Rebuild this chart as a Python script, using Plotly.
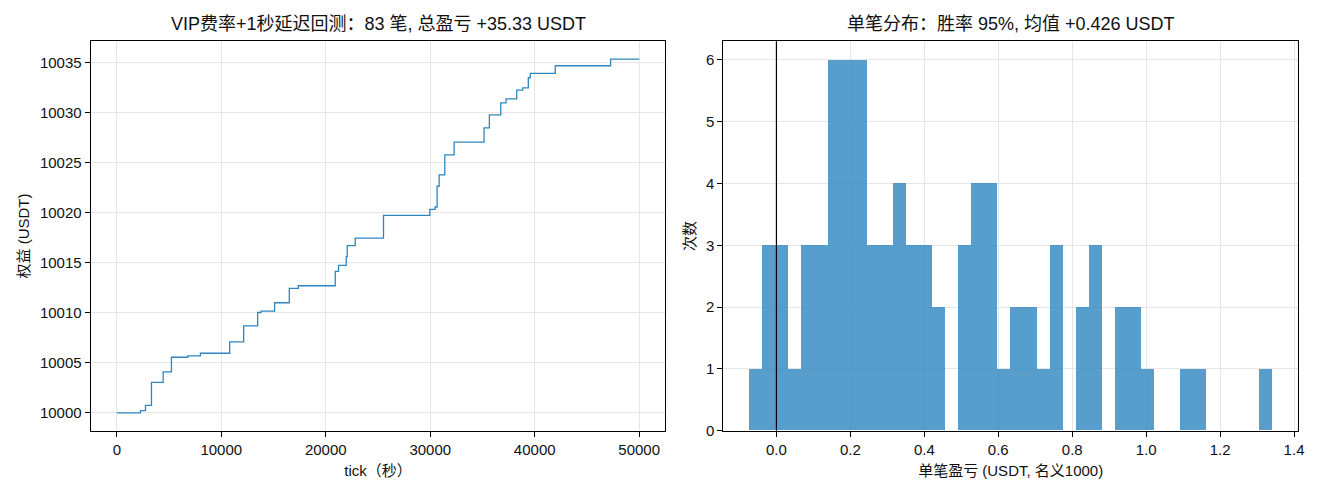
import plotly.graph_objects as go

# ---- Left panel: equity curve (step) ----
tick_sec = [0, 2266, 2744, 3317, 4436, 5229, 6788, 8002, 10803, 12141, 13480, 13800,
            15105, 16511, 17371, 20908, 21224, 21960, 22055, 22820, 25526, 29962,
            30469, 30660, 30851, 31395, 32285, 35153, 35660, 36750, 37256, 38279,
            38853, 39388, 39579, 41969, 47266, 50000]
equity = [10000.0, 10000.23, 10000.76, 10003.06, 10004.1, 10005.56, 10005.7, 10005.96,
          10007.1, 10008.7, 10010.03, 10010.17, 10011.0, 10012.43, 10012.7, 10014.13,
          10014.73, 10015.6, 10016.7, 10017.46, 10019.73, 10020.33, 10020.56, 10022.63,
          10023.76, 10025.76, 10027.03, 10028.46, 10029.76, 10030.96, 10031.36, 10032.23,
          10032.46, 10033.46, 10033.9, 10034.66, 10035.33, 10035.33]

# ---- Right panel: histogram of per-trade PnL (40 bins) ----
bin_start = -0.073
bin_width = 0.03533
bin_counts = [1, 3, 3, 1, 3, 3, 6, 6, 6, 3, 3, 4, 3, 3, 2, 0, 3, 4, 4, 1,
              2, 2, 1, 3, 0, 2, 3, 0, 2, 2, 1, 0, 0, 1, 1, 0, 0, 0, 0, 1]
bin_centers = [bin_start + (i + 0.5) * bin_width for i in range(len(bin_counts))]

left_yticks = [10000, 10005, 10010, 10015, 10020, 10025, 10030, 10035]
left_xticks = [0, 10000, 20000, 30000, 40000, 50000]
right_xticks = [0.0, 0.2, 0.4, 0.6, 0.8, 1.0, 1.2, 1.4]
right_yticks = [0, 1, 2, 3, 4, 5, 6]

title_left = "VIP费率+1秒延迟回测：83 笔, 总盈亏 +35.33 USDT"
title_right = "单笔分布：胜率 95%, 均值 +0.426 USDT"

FONT = "Liberation Sans, Arial, Noto Sans CJK SC, sans-serif"
LINE_COLOR = "#2E86C1"
GRID = "#e6e6e6"
TXT = "#111111"

fig = go.Figure()
fig.add_trace(go.Scatter(x=tick_sec, y=equity, mode="lines", line_shape="hv",
                         line=dict(color=LINE_COLOR, width=1.3),
                         xaxis="x", yaxis="y", showlegend=False))
fig.add_trace(go.Bar(x=bin_centers, y=bin_counts, width=bin_width,
                     marker=dict(color=LINE_COLOR, opacity=0.8, line=dict(width=0)),
                     xaxis="x2", yaxis="y2", showlegend=False))

W, H = 1320, 495
lx0, lx1 = 90.7 / W, 665.3 / W
rx0, rx1 = 723.3 / W, 1298.0 / W
y0, y1 = 1 - 430.7 / H, 1 - 41.3 / H

axis_common = dict(showline=True, linecolor="black", linewidth=1.1, mirror=True,
                   ticks="outside", ticklen=5, tickwidth=1, tickcolor="black",
                   showgrid=True, gridcolor=GRID, gridwidth=1, zeroline=False,
                   automargin=False,
                   tickfont=dict(family=FONT, size=15, color=TXT))

def ttl(text, standoff):
    return dict(text=text, font=dict(family=FONT, size=15, color=TXT), standoff=standoff)

fig.update_layout(
    width=W, height=H,
    margin=dict(l=0, r=0, t=0, b=0, autoexpand=False),
    plot_bgcolor="white", paper_bgcolor="white",
    font=dict(family=FONT, size=15, color=TXT),
    bargap=0,
    xaxis=dict(domain=[lx0, lx1], anchor="y", range=[-2500, 52500],
               tickvals=left_xticks, ticktext=[str(v) for v in left_xticks],
               title=ttl("tick（秒）", 8), **axis_common),
    yaxis=dict(domain=[y0, y1], anchor="x", range=[9998.23, 10037.1],
               tickvals=left_yticks, ticktext=[str(v) for v in left_yticks],
               title=ttl("权益 (USDT)", 6), **axis_common),
    xaxis2=dict(domain=[rx0, rx1], anchor="y2", range=[-0.1437, 1.4107],
                tickvals=right_xticks, ticktext=[f"{v:.1f}" for v in right_xticks],
                title=ttl("单笔盈亏 (USDT, 名义1000)", 8), **axis_common),
    yaxis2=dict(domain=[y0, y1], anchor="x2", range=[0, 6.3],
                tickvals=right_yticks, ticktext=[str(v) for v in right_yticks],
                title=ttl("次数", 6), **axis_common),
    shapes=[dict(type="line", xref="x2", yref="y2 domain", x0=0, x1=0, y0=0, y1=1,
                 line=dict(color="black", width=1.2), layer="above")],
    annotations=[
        dict(text=title_left, xref="paper", yref="paper", x=(lx0 + lx1) / 2, y=y1,
             yshift=5, xanchor="center", yanchor="bottom", showarrow=False,
             font=dict(family=FONT, size=18, color=TXT)),
        dict(text=title_right, xref="paper", yref="paper", x=(rx0 + rx1) / 2, y=y1,
             yshift=5, xanchor="center", yanchor="bottom", showarrow=False,
             font=dict(family=FONT, size=18, color=TXT)),
    ],
)

fig.write_html("out.html")
